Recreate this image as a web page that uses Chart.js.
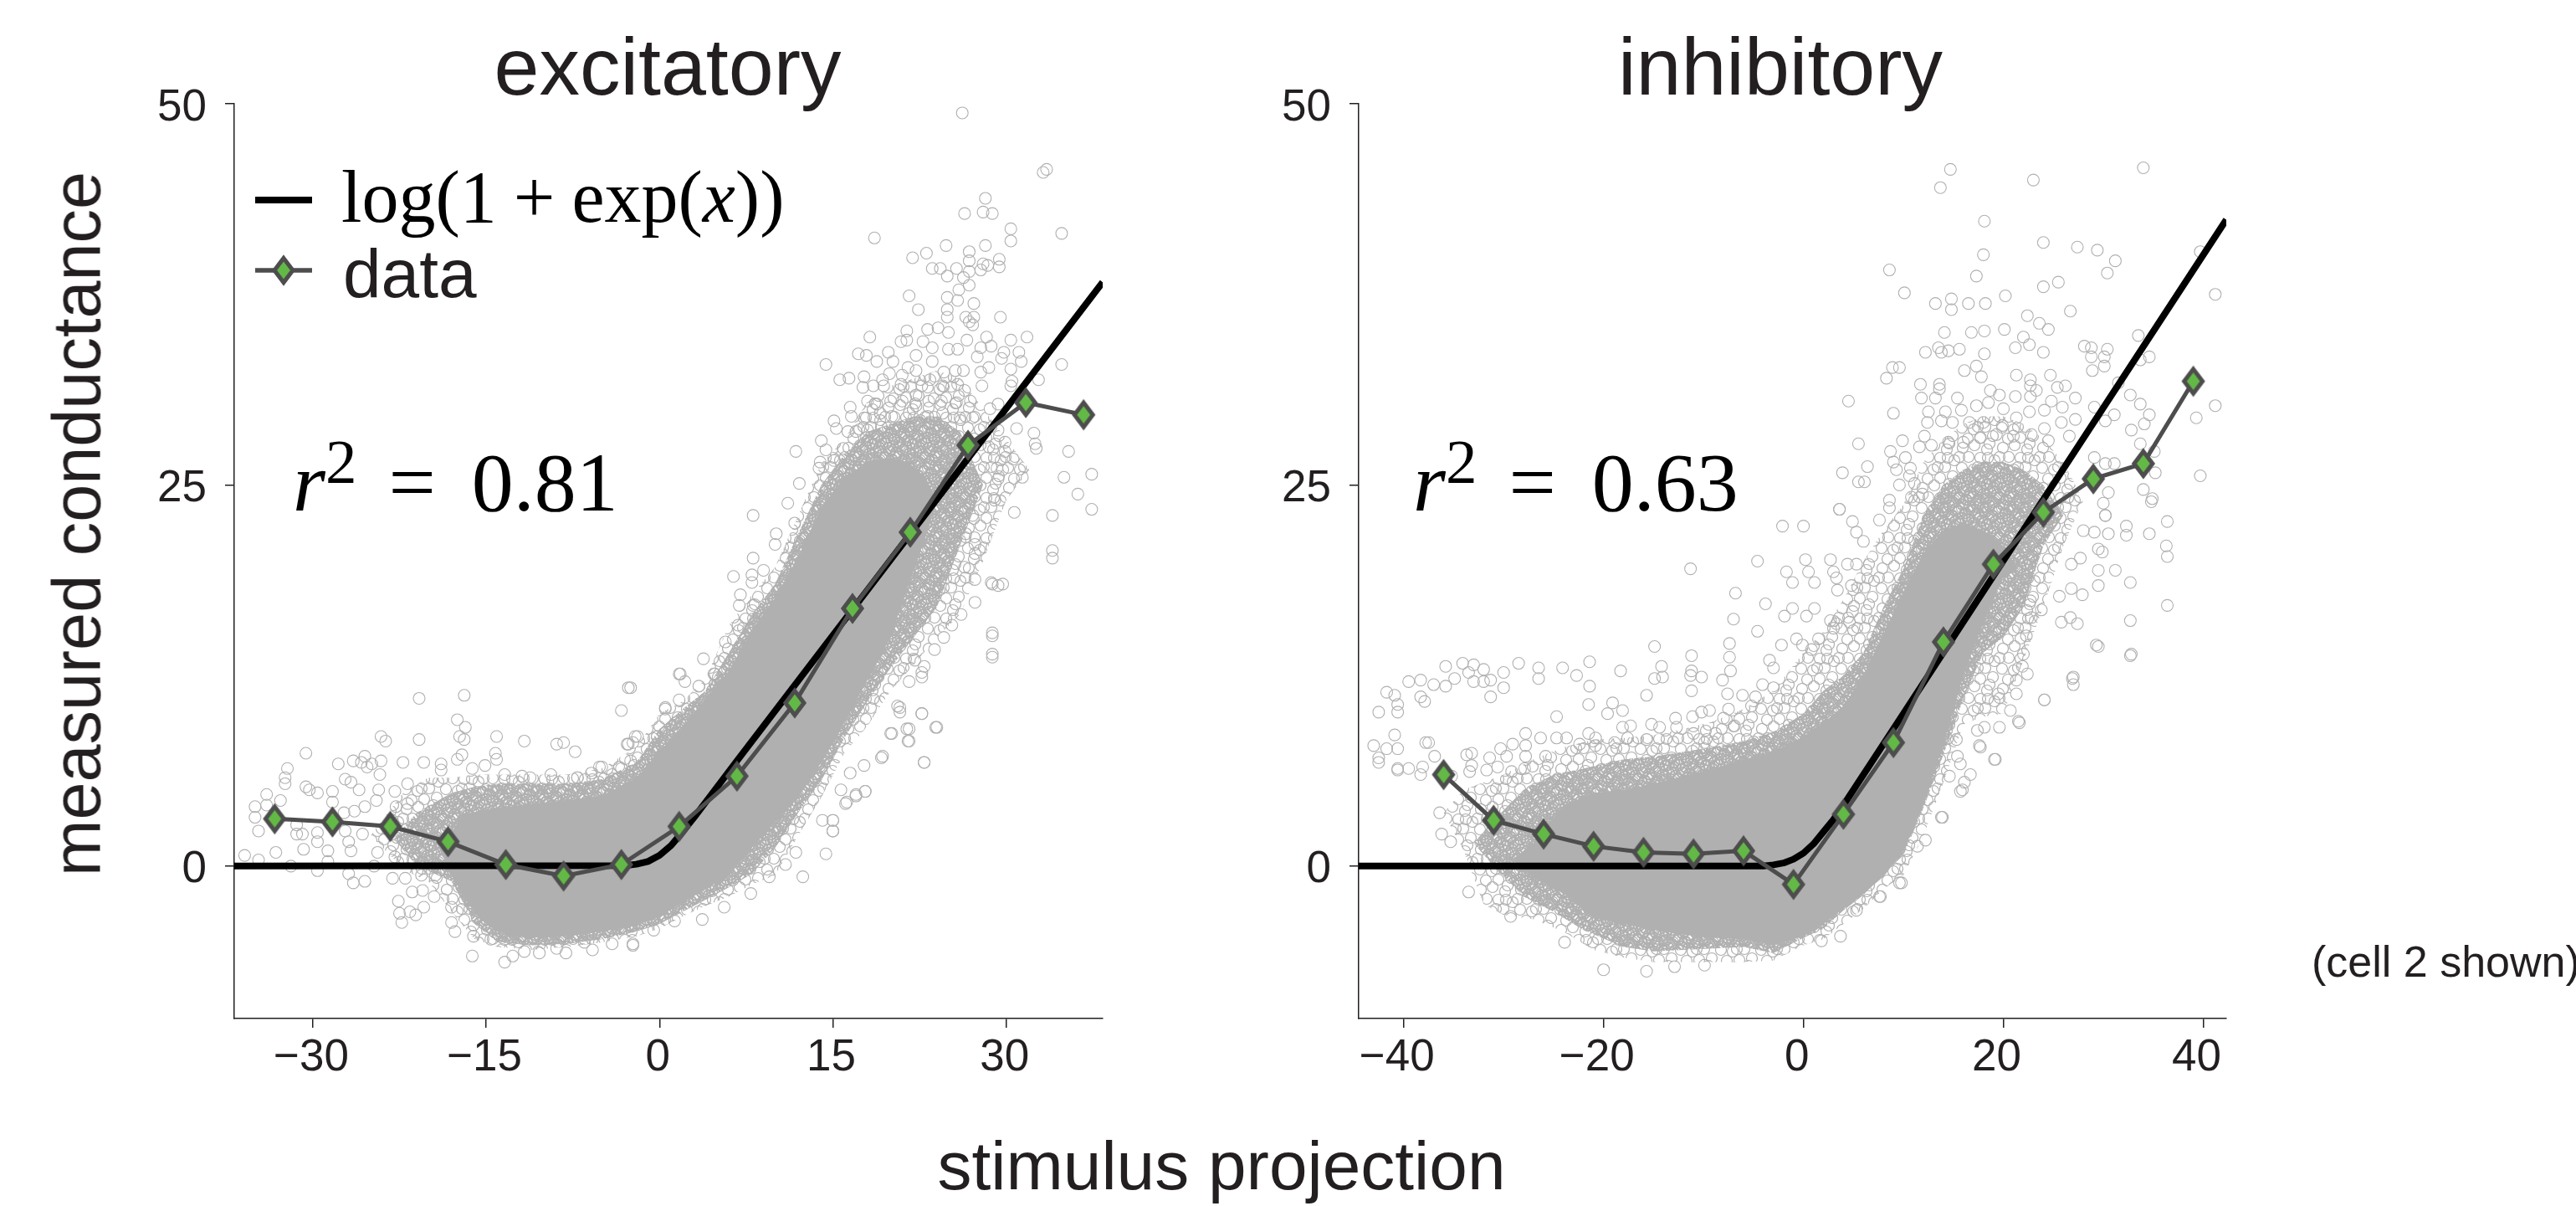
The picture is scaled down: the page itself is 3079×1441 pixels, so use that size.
<!DOCTYPE html>
<html><head><meta charset="utf-8">
<script src="https://cdn.jsdelivr.net/npm/chart.js@4/dist/chart.umd.min.js"></script>
<style>
html,body{margin:0;padding:0;background:#fff;width:3079px;height:1441px;overflow:hidden}
canvas{position:absolute;top:0}
.t{position:absolute;white-space:nowrap;color:#231f20;font-family:"Liberation Sans",sans-serif;line-height:1}
.m{position:absolute;white-space:nowrap;color:#000;font-family:"Liberation Serif",serif;line-height:1}
.m i{font-style:italic}
.m sup{font-size:.75em;position:relative;vertical-align:baseline;line-height:0;top:-.44em}
</style></head><body>
<canvas id="c1" width="1596" height="1441" style="left:0"></canvas>
<canvas id="c2" width="1304" height="1441" style="left:1476px"></canvas>
<div class="t" style="left:92px;top:626px;font-size:81px;transform:translate(-50%,-50%) rotate(-90deg)">measured conductance</div>
<div class="t" style="left:1460px;top:1393px;font-size:82px;transform:translate(-50%,-50%)">stimulus projection</div>
<div class="t" style="left:2763px;top:1123px;font-size:52px">(cell 2 shown)</div>
<div class="m" style="left:408px;top:192px;font-size:88px">log(1<span style="margin:0 20px">+</span>exp(<i>x</i>))</div>
<div class="t" style="left:410px;top:286px;font-size:82px">data</div>
<div class="m" style="left:350px;top:527px;font-size:100px"><i>r</i><sup>2</sup><span style="margin:0 43px 0 38px">=</span>0.81</div>
<div class="m" style="left:1689px;top:527px;font-size:100px"><i>r</i><sup>2</sup><span style="margin:0 43px 0 38px">=</span>0.63</div>
<script>
// ---- tick labels and panel titles
const excTicksX=[-30,-15,0,15,30];
const inhTicksX=[-40,-20,0,20,40];
const ticksY=[0,25,50];
const excTitle='excitatory', inhTitle='inhibitory';
const excRangeX=[-36.8,38.35], inhRangeX=[-44.5,42.3], rangeY=[-10,50];
// ---- binned data series
const excBinX=[-33.3,-28.3,-23.3,-18.3,-13.3,-8.3,-3.3,1.7,6.7,11.7,16.7,21.7,26.7,31.7,36.7];
const excBinY=[3.1,2.9,2.6,1.6,0.1,-0.65,0.1,2.6,5.9,10.7,16.9,21.9,27.6,30.4,29.6];
const inhBinX=[-36,-31,-26,-21,-16,-11,-6,-1,4,9,14,19,24,29,34,39];
const inhBinY=[6,3,2.1,1.3,0.9,0.8,1,-1.2,3.4,8.1,14.7,19.8,23.2,25.4,26.4,31.8];
// ---- fitted curves
const excFitX=[-36.8,-3,-2,-1,0,1,2,3,4,6.7,38.35];
const excFitY=[0,0.03,0.12,0.3,0.7,1.35,2.25,3.2,4.2,6.9,38.3];
const inhFitX=[-44.5,-4,-3,-2,-1,0,1,2,3,4,9,42.3];
const inhFitY=[0,0,0.08,0.2,0.45,0.85,1.45,2.25,3.05,4,9,42.4];
// ---- envelope of the dense cloud: solid core, dense-ring zone, sparse-ring zone
const excCoreX=[-19,-17,-15,-13,-11,-8,-5,-2,0,2,4,6,8,10,12,14,16,18,20,21.5,23,24];
const excCoreHi=[1,3.4,3.7,3.9,4.1,4.3,4.6,5.8,7.5,9.2,11,12.8,15.5,17.6,20.3,23.5,25.5,26.5,26.8,26.5,25.5,24];
const excCoreLo=[1,-2,-3.8,-4.6,-4.7,-4.6,-4.3,-3.9,-3.3,-2.4,-1.5,-0.6,1.2,2.9,4.5,6.8,9.4,12.2,15,18.4,21.5,24];
const excMidX=[-23,-21,-18,-16,-14,-11,-8,-5,-2,0,2,4,6,8,10,12,14,16,18,20,22,24,26,28];
const excMidHi=[1.8,3.5,4.8,5.2,5.4,5.4,5.4,5.7,6.8,9,10.3,11.5,14,16.5,18.5,21.8,25,27,28.5,29,29.5,29.5,28.5,25];
const excMidLo=[1.8,0,-1,-3.8,-5,-5.2,-5.1,-4.8,-4.3,-3.8,-3,-2.2,-1.4,-0.5,1.2,3.5,5.6,8.4,10.8,13,15,17,21,25];
const excMeshX=[-25,-22,-20,-18,-16,-14,-11,-8,-5,-2,0,2,4,6,8,10,12,14,16,18,20,22,24,26,28,30,32];
const excMeshHi=[2,5,5.8,5.8,6,6,6,6,6.4,7.8,10,10.8,12.3,15.8,17.8,19.6,23,26.4,28,30.5,31.5,32,32.5,32,30,28,26];
const excMeshLo=[2,-0.3,-1,-3,-4.8,-5.3,-5.5,-5.3,-5,-4.6,-4.1,-3.3,-2.6,-2,-1.2,-0.6,2,4.5,7.4,9.2,11.5,13.2,15,16.5,20,24,26];
const inhCoreX=[-29,-27,-24,-21,-18,-15,-12,-9,-6,-3,0,2,4,6,8,10,12,14,16,18,20,21.5];
const inhCoreHi=[0.5,1.5,4,4.8,5,5.4,5.9,6.4,7,7.5,8.5,9.4,10.5,12.5,15.2,18,20.5,22,22.5,22,21,19.5];
const inhCoreLo=[0.5,-0.8,-1.8,-3.4,-3.8,-4.2,-4.5,-4.7,-4.8,-5.2,-4.6,-3.8,-2.8,-1.8,-0.7,1,4,8,12.5,16,19,19.5];
const inhMidX=[-33,-31,-28,-25,-22,-18,-15,-12,-9,-6,-3,0,2,4,6,8,10,12,14,16,18,20,22,24,26];
const inhMidHi=[1.5,3,5,6,6.4,7,7.2,7.5,7.8,8.2,8.8,10,11.5,12.5,14,17,19.5,23,25,26,26.5,26.5,26,25,23];
const inhMidLo=[1.5,0,-2,-3,-4.2,-5.3,-5.6,-5.5,-5.4,-5.3,-5.7,-4.7,-4.1,-2.9,-1.9,-0.5,0.7,3.8,7.3,11,14,15,17,21,23];
const inhMeshX=[-36,-34,-32,-30,-27,-24,-21,-18,-15,-12,-9,-6,-3,0,2,4,6,8,10,12,14,16,18,20,22,24,26,28];
const inhMeshHi=[3.5,5,5.5,6,7,7.8,8.3,8.4,8.6,9,9.5,10.3,11.5,14,15.4,17.5,20,22,23.7,26.5,28,29,29.5,29.5,29,28,26.5,24];
const inhMeshLo=[3.5,1,-2.5,-3.2,-3.5,-4.3,-5.5,-6,-6.3,-6.3,-6.3,-6.3,-6.2,-5.2,-4.8,-3.8,-2.8,-1.5,-0.6,2,5.5,9.3,9.8,10,13.5,17,21,24];
// ---- individually legible open circles around the cloud
const excCircles=[[26.2,49.4],[33.2,45.5],[28.2,43.8],[26.4,42.8],[28,42.9],[28.8,42.8],[30.4,41.8],[30.4,41],[18.6,41.2],[24.8,40.7],[28.2,40.7],[23.1,40.2],[21.9,39.9],[26.8,40.3],[26.8,39.7],[23.6,39.2],[24.3,39.2],[25.7,39.2],[26.8,39],[28,39.5],[28.4,39.4],[27.8,39.1],[29.4,39.8],[29.4,39.3],[24.9,38.7],[26.3,38.6],[26.8,38.1],[25.9,37.8],[21.6,37.4],[24.9,37.3],[25.8,37.1],[27.2,36.9],[22.4,36.5],[24.9,36.5],[24.9,36],[29.5,36],[26.5,36],[27.2,36],[26.8,35.7],[27.1,35.5],[18.2,34.7],[21.4,35.1],[21.4,34.5],[20.9,34.4],[23.2,35.2],[24.1,35.3],[25,35],[22.8,34.4],[23.6,34],[25,33.9],[25.8,33.9],[26.6,34.5],[28.3,34.7],[30.4,34.5],[31.8,34.7],[28.7,34.1],[27.8,34],[29.8,33.7],[31.1,33.7],[27.5,33.4],[29.6,33.3],[31.3,33.1],[28.5,32.7],[27.8,32.4],[30.4,32.6],[30.5,31.8],[27.9,31.5],[30.4,31.5],[32.8,31.9],[17.2,33.6],[17.9,33.5],[19.8,33.7],[18.8,33.1],[20.2,33.1],[14.4,32.9],[22.2,33.5],[23.6,33.1],[21.5,32.7],[22.2,32.5],[26.3,32.5],[24.6,32.4],[25.6,32.5],[16.4,32],[15.6,31.9],[17.7,32.1],[21,32.2],[19.9,32.3],[23.4,31.9],[17.6,31.4],[18.5,31.5],[19.4,31.5],[19.3,31.9],[20.9,31.6],[24.5,31.5],[25.8,31.6],[26.4,31.2],[22.7,31.5],[16.5,30.1],[18,30.5],[18.8,30.3],[20,30.5],[21,30.5],[22.2,30.9],[22.2,30.2],[23.3,30.5],[24.4,30.5],[25.7,30.4],[26.9,30.5],[16.6,29.5],[17.7,29.4],[19.1,29.7],[20.1,29.5],[21.6,29.7],[23.2,29.5],[24.5,29.7],[26,29.4],[27.1,29.4],[28.6,30],[29.3,30.3],[15.1,29.2],[15.3,28.7],[16.3,28.5],[17,28.5],[18,28.6],[19.2,28.8],[30.9,28.7],[29.3,28.6],[32.4,28.4],[32.6,27.4],[29.9,27.8],[29.9,27.2],[30.6,26.7],[29.2,26.1],[28.5,27.5],[14,27.9],[14.4,27.3],[11.8,27.2],[15.9,27.4],[13.9,26.5],[13.8,26.1],[15.1,26.6],
[-16.9,11.2],[-20.8,11],[-2.7,11.7],[-3.3,10.2],[-17.5,9.6],[-16.8,9.1],[-17.3,8.5],[-16.9,8.3],[-20.8,8.3],[-24.1,8.5],[-23.7,8.2],[-14.1,8.5],[-11.7,8.2],[-8.9,8],[-8.3,8.1],[-7.3,7.5],[-30.6,7.4],[-32.2,6.4],[-32.4,5.8],[-32.4,5.4],[-27.8,6.7],[-26.5,6.9],[-25.5,7.2],[-25.8,6.8],[-25.3,6.5],[-24.9,6.7],[-24.1,6.9],[-22.2,6.8],[-20.4,6.8],[-18.9,6.7],[-17.1,7.3],[-17.5,7],[-18.9,6.3],[-14.2,7.4],[-14.1,7],[-15.1,6.6],[-16.2,6.4],[-24.2,6],[-27.2,5.7],[-26.7,5.5],[-30.6,5.2],[-30.3,5],[-29.6,4.8],[-28.3,4.9],[-28.3,4.2],[-34,4.7],[-32.8,4.3],[-35,3.9],[-34,4],[-35,3.2],[-34.7,2.3],[-35.9,0.7],[-34.7,0.4],[-33.2,0.9],[-31.9,0],[-29.6,-0.3],[-28.7,0.3],[-28.7,1],[-30.8,1.1],[-29.6,1.6],[-30.9,2.1],[-31.4,2.1],[-31.4,2.7],[-29.6,2.2],[-26.7,1],[-26.9,-0.5],[-26.5,-1.1],[-25.5,-1],[-24.7,0],[-23.1,-0.8],[-22,-0.8],[-20.6,-0.6],[-19.4,-0.6],[-24.4,0.9],[-22.9,0.6],[-25.7,2.1],[-26.9,1.6],[-27.2,2.3],[-27.3,3.5],[-26.4,3.6],[-25.5,3.9],[-26,5],[-24.3,5],[-22.9,4.9],[-21.8,5.4],[-24.5,4.3],[-22.8,3.9],[-21.8,4.1],[-22.6,-2.3],[-22.5,-3.1],[-21.6,-3],[-22.3,-3.7],[-21.1,-3.2],[-20.4,-2.7],[-21.4,-1.7],[-20.5,-1.6],[-19.5,-2],[-18,-2.7],[-18,-3.7],[-17.7,-4.3],[-16.2,-5.9],[-13.4,-6.3],[-10.4,-5.7],[-8.1,-5.7],[-5.8,-5.5],[-2.3,-5.1],[-16.1,-4.6],[-14.6,-4.8],[-12.7,-5.9],[-11.7,-5.6],[-8.9,-5.4],[-6.5,-5],[-4.1,-5.1],[-13.4,6],[-11.9,5.9],[-11.2,5.8],[-9.4,6],[-7.1,5.8],[-5.9,6.1],[-5,6.5],[-4.1,6],[-2.3,8.1],[-2.8,8],[-2.5,6.9],[-3.3,6.4],
[1.7,12.6],[0.5,10.3],[4.8,12.6],[-1.9,8.5],[-0.2,8.5],[-2.7,8],[0.3,7.4],[-5.2,6.5],[-7.1,5.8],[23.9,9.1],[22.7,10],[21.6,9],[21.6,8.2],[20,8.7],[22.9,6.8],[19.2,7.1],[17.8,4.9],[17,4.7],[16.1,4.1],[15,2.3],[15,3],[14.4,0.8],[11.8,0.9],[12.4,-0.7],[10.9,0.1],[9.5,-0.7],[7.9,-1.8],[5.6,-2.7],[3.7,-3.5],[1.3,-3.6],[-0.5,-4.2],[-2.3,-5.2],[22.7,12.7],[20.6,10.5],
[12.1,25.1],[11.1,23.8],[8.1,23],[10.1,21.8],[11.7,22.5],[10,21.1],[8.1,20.2],[6.4,19],[8,19.1],[9,19.4],[8,18.6],[7,17.8],[6.9,17.1],[8.1,17.1],[6.8,15.8],[5.7,14.7],[3.8,13.6],[1.8,12.6],[2.2,12.1],[4.7,12.6],[3.4,11.8],[-2.5,11.7],[0.5,10.4],[1.7,10.9],[1.4,9.4],[-2.1,8.5],[-0.2,8.5],[29.3,25.4],[29,24],[27.1,23],[26.5,21.8],[27.3,21.1],[27.3,20.5],[26.4,19.6],[27.3,18.8],[28.7,18.6],[29.3,18.4],[27.3,17.3],[26.1,16.5],[25.3,15.8],[24.6,15],[23.8,14.2],[28.8,15.1],[28.8,13.9],[22.9,13.1],[22.1,13.5],[22.7,12.4],[21.6,12.1],[22.7,10],[24,9.1],[21.4,9],[21.5,8.2],[20.1,8.7],[20.8,10.4],[20.8,10.1],[22.9,6.8],[19.3,7.2],[17.7,6.6],[17.8,4.9],[17,4.6],[16.2,4.2],[16.5,6.1],[15.7,5],[15,3],[15,2.3],[14.1,3],
[36.2,24.4],[37.4,25.7],[35.4,27.2],[37.4,23.4],[35,25.5],[34,23],[34,20.7],[34,20.2],[30.7,23.2],[29.7,18.5],[28.8,18.5],[28.8,15.3],[28.8,13.7],[31.4,25.5],[29.7,26],[32.5,27.7],[34.8,32.9],[34.8,41.5],[33.5,45.7]];
const inhCircles=[[14.7,45.7],[13.7,44.5],[23,45],[34,45.8],[18.1,42.3],[24,40.9],[27.4,40.6],[29.4,40.4],[31.2,39.7],[30.4,38.9],[18,40.1],[8.6,39.1],[17.3,38.7],[10.1,37.6],[24,38],[25.5,38.3],[14.8,37.2],[14.8,36.5],[13.2,36.9],[16.5,36.9],[18.2,36.9],[20.2,37.4],[26.7,36.4],[22.4,36.1],[23.6,35.6],[24.5,35.2],[14.1,35],[16.8,35],[18.1,35.1],[20.1,35.2],[22,34.7],[22.6,34.2],[21.2,34],[24,33.7],[13.5,34],[12.2,33.7],[13.8,33.7],[14.5,33.8],[15.6,33.9],[18.1,33.6],[28.1,34.1],[28.8,34],[30.4,33.9],[28.8,33.4],[30.1,33.4],[30.1,32.8],[28.9,32.5],[33.5,34.8],[34.6,33.4],[33.7,33.2],[39.7,40.3],[41.2,37.5],[41.2,30.2],[39.3,29.4],[39.7,25.6],[8.9,32.7],[9.6,32.7],[8.3,32],[4.5,30.5],[9,29.7],[5.5,27.7],[6.4,26.2],[3.9,25.8],[5.5,25.2],[6.1,25.2],[3.6,23.4],[11.7,31.6],[13.6,31.6],[13.6,31.3],[11.8,30.7],[13.2,30.7],[15.4,30.7],[16.1,32.5],[17.3,32.8],[17.8,32.1],[18.7,31.2],[19.6,30.9],[21.3,32.2],[21.2,30.8],[22.7,31.9],[22.7,31.5],[23.3,31.2],[22.7,30.8],[24.7,32.2],[26.2,31.5],[25.4,31.4],[27.2,30.7],[24.8,30.5],[25.9,30.1],[29.1,30.1],[32.7,30.9],[31.5,31.7],[33.7,30.3],[34.6,29.6],[34.1,29],[31.1,29.6],[30.2,29.2],[32.8,28.6],[33.7,27.7],[35.1,27.2],[35.2,25.8],[34,24.7],[34.9,24.1],[30,23.8],[30.5,24.5],[30.2,23],[30.2,26.4],[31.1,26.4],[29.1,26.8],[12.5,29.8],[12.4,29.1],[14.2,29.8],[15.8,29.9],[17.3,30.2],[18.5,30.4],[20,30],[21.3,29.4],[22.6,29.8],[24.1,29.9],[16.6,29.1],[14.9,29.1],[13.8,29.2],[18,29.1],[19.9,28.9],[24.1,28.7],[25.8,29.1],[27.2,29.3],[12.1,28.2],[9.9,27.9],[8.7,27.2],[11.6,27.5],[12.8,27.6],[14.5,27.8],[16,27.8],[17.7,28.1],[19.3,28.3],[21,28.2],[22.8,28.3],[24.5,27.9],[26.6,28.2],[9,26.5],[10.2,26.8],[9.3,26],[10.7,26.1],[10.6,25.6],[9.6,25],[11.1,25.1],[8.6,24],[8.6,23.5],[10.8,24.2],[11.9,24.4],
[-2.1,22.3],[-11.3,19.5],[-4.6,20],[-1.7,19.3],[-1.1,18.6],[0.2,20.1],[-6.8,17.9],[-3.8,17.2],[-1.1,16.9],[-1.9,16.4],[-7,16.2],[-4.6,15.4],[-7.4,14.6],[-14.9,14.4],[-11.2,13.8],[-7.4,13.7],[-2.2,14.5],[-0.7,14.9],[-28.5,13.3],[-26.5,13],[-26.5,12.3],[-24.1,13],[-22.7,12.5],[-21.4,13.4],[-21.4,11.8],[-18.3,12.8],[-14.2,13.1],[-14.1,12.4],[-14.9,12.3],[-11.2,12.8],[-11.3,12.5],[-10.2,12.4],[-11.2,11.5],[-8.1,12.2],[-7.3,12.8],[-7.6,11.3],[-6.1,11.2],[-15.7,11.2],[-35.8,13.1],[-34.1,13.3],[-33,13.2],[-32,12.9],[-30,12.7],[-30,11.7],[-38.3,12.2],[-39.5,12.1],[-37,11.9],[-35.8,11.8],[-34.9,12.3],[-33.5,12.7],[-33,12.1],[-32,12.1],[-31.3,12.2],[-31.3,11.1],[-41.7,11.4],[-40.9,11.2],[-38.3,11.1],[-37.9,10.8],[-40.6,10.6],[-40.6,10.1],[-42.5,10.1],[-21.5,10.6],[-19.1,10.7],[-18.1,10.2],[-19.6,10],[-24.7,9.8],[-12.8,9.7],[-11.1,9.8],[-10.2,10.1],[-9.4,10.2],[-7.5,10.3],[-8,9.7],[-17.3,9.2],[-18.1,9.1],[-15.2,9.3],[-14.4,9.1],[-27.8,8.7],[-26.3,8.4],[-24.7,8.4],[-23.7,8.4],[-21.5,8.7],[-20.8,8.4],[-22.4,8],[-40.9,8.6],[-37.8,8.1],[-43,7.9],[-41.7,7.7],[-40.6,7.7],[-30.3,7.7],[-29.1,8],[-27.8,7.9],[-33.7,7.3],[-36.9,7.2],[-42.5,7.1],[-42.5,6.8],[-31.4,7.1],[-29.7,7.2],[-25.8,7.2],[-27.8,7.2],[-39.5,6.4],[-40.6,6.3],[-38.1,6.5],[-38.3,6],[-35.2,5.9],[-33.4,6.2],[-33.2,6.6],[-31.7,6.3],[-30.6,6.5],[-29.2,6.2],[-27.9,6.4],[-18.9,8.1],[-17.6,8.4],[-15.7,8.3],[-20.8,7.9],[-12.7,9.1],[-11,8.7],[-9.9,8.1],[-8.8,8.7],[-6.9,9.2],[-4.1,11.9],[-3,11.7],[-3.4,13.5],[-3,13],[-4.8,11.1],[-5.2,10.5],
[3.6,23.4],[0,22.3],[4.9,22.6],[7.6,22.7],[5.3,21.9],[6,21.3],[2.7,20.1],[4.4,19.8],[5.3,19.8],[0.5,19.3],[1.1,18.6],[3,19.3],[3.3,18.9],[3.4,18.1],[4.8,18.4],[1.1,16.9],[0.3,16.4],[4.9,16.7],[2.7,16.1],[4.6,16],[3.3,15.9],[3,15.6],[1.5,14.9],[-0.1,14.5],[0.8,14.2],[29.1,21.9],[30.5,21.8],[32.3,22.3],[32.3,21.7],[34.6,21.8],[36.4,22.6],[36.3,21],[36.4,20.3],[29.5,20.8],[29.9,20.6],[27.7,20.2],[26.8,19.8],[29.5,19.4],[31.2,19.4],[32.7,18.6],[26.8,18.2],[29.5,18.4],[27.9,17.8],[25.6,17.7],[23.8,16.8],[36.4,17.1],[32.7,16.1],[25.8,16],[26.7,16.3],[27.4,15.9],[29.5,14.4],[32.7,13.8],[27,12.4],[27,11.9],[24.1,10.9],[28,22],[30.2,23],[34.8,23.9],[22.7,17.4],[22.8,16.3],[22.3,15.1],[22,13.9],[21.9,13.1],[22.4,12.6],[21.3,12.2],[21.3,11.3],[19.5,11.3],[20.7,10.2],[21.6,9.4],[19.6,9.1],[18.1,9.1],[17.4,8.9],[17.7,7.8],[19.2,7],[15.3,8.3],[15.4,7.2],[15.7,6.7],[16.7,6],[16.1,5.5],[15.7,4.9],[14.6,5.9],[13.9,3.2],[12.2,1.7],[11.4,1.3],[9.8,-1.1],[7.6,-2],[5.3,-2.9],
[-20,-6.8],[-15.7,-6.9],[-9.9,-6.5],[-12.9,-6.6],[-23.9,-5],[-29.3,-3.3],[-33.5,-1.7],[-36.2,2.1],[-35.3,1.6],[-36.4,3.5],[-33.2,7.4],[-37.5,8.1],[-40.6,6.4],[3.7,-4.6],[1.8,-4.9],[7.7,-2],[9.6,-1.1],[13.8,3.2],[15.9,5],[19.1,7],[21.5,9.5],[17.6,7.9],[29.3,14.5],[32.8,13.9],[26.9,12.3],[24.1,10.9]];

// ---- styling
const CLOUD='#b0b0b0', INK='#231f20', BIN_LINE='#4d4d4d', BIN_FILL='#63b946';
const tickFont={family:'"Liberation Sans",sans-serif',size:53};
const titleFont={family:'"Liberation Sans",sans-serif',size:97,lineHeight:1,weight:'normal'};

function ringTile(rings,lw){
  const s=document.createElement('canvas');s.width=s.height=48;const c=s.getContext('2d');
  c.strokeStyle=CLOUD;c.lineWidth=lw;
  for(const[x,y]of rings)for(const dx of[-48,0,48])for(const dy of[-48,0,48]){c.beginPath();c.arc(x+dx,y+dy,6.5,0,7);c.stroke();}
  return document.createElement('canvas').getContext('2d').createPattern(s,'repeat');
}
const sparseRings=[[6,7],[20,4],[35,9],[44,22],[13,18],[27,19],[5,31],[19,33],[33,30],[42,41],[12,44],[27,43],[38,2],[24,30],[2,18],[36,19]];
const denseRings=[[3,2],[11,5],[19,1],[27,6],[35,3],[43,7],[7,11],[15,13],[23,10],[31,14],[39,12],[47,15],[2,19],[10,21],[18,18],[26,22],[34,20],[42,24],[6,27],[14,29],[22,26],[30,30],[38,28],[46,32],[1,35],[9,37],[17,34],[25,38],[33,36],[41,40],[5,43],[13,45],[21,42],[29,46],[37,44],[45,47]];
function diamond(){
  const W=16,H=20,hw=11,hh=14.5,s=document.createElement('canvas');s.width=W*2;s.height=H*2;const c=s.getContext('2d');
  c.translate(W,H);c.beginPath();c.moveTo(0,-hh);c.lineTo(hw,0);c.lineTo(0,hh);c.lineTo(-hw,0);c.closePath();
  c.fillStyle=BIN_FILL;c.fill();c.strokeStyle=BIN_LINE;c.lineWidth=5;c.lineJoin='miter';c.miterLimit=6;c.stroke();return s;
}
const diamondMark=diamond(), ringFill=ringTile(sparseRings,1.2), denseFill=ringTile(denseRings,2.1);
const zip=(xs,ys)=>xs.map((x,i)=>({x,y:ys[i]}));
function band(xs,hi,lo,fillStyle,idx,order){
  return [
    {data:zip(xs,hi),borderWidth:0,pointRadius:0,fill:{target:idx+1},backgroundColor:fillStyle,order},
    {data:zip(xs,lo),borderWidth:0,pointRadius:0,fill:false,order}
  ];
}
function panelPlugin(on){return{id:'panelExtras',
  afterLayout(ch){ // centre the title over the whole canvas rather than the padded box
    if(ch.titleBlock){ch.titleBlock.left=0;ch.titleBlock.right=ch.width;}
  },
  afterDatasetsDraw(ch){
    if(!on)return;const c=ch.ctx;c.save();
    c.strokeStyle='#000';c.lineWidth=8;c.beginPath();c.moveTo(305,239);c.lineTo(373,239);c.stroke();
    c.strokeStyle=BIN_LINE;c.lineWidth=5.5;c.beginPath();c.moveTo(305,323);c.lineTo(373,323);c.stroke();
    c.drawImage(diamondMark,339-diamondMark.width/2,323-diamondMark.height/2);c.restore();
  }};}
function panel(id,p){
  const ds=[
    ...band(p.meshX,p.meshHi,p.meshLo,ringFill,0,10),
    ...band(p.midX,p.midHi,p.midLo,denseFill,2,9),
    ...band(p.coreX,p.coreHi,p.coreLo,CLOUD,4,8),
    {type:'scatter',data:p.circles.map(([x,y])=>({x,y})),showLine:false,pointStyle:'circle',pointRadius:7,pointBorderWidth:1.1,pointBorderColor:'#b0b0b0',pointBackgroundColor:'rgba(0,0,0,0)',order:7},
    {label:'log(1+exp(x))',data:zip(p.fitX,p.fitY),borderColor:'#000',borderWidth:8,pointRadius:0,fill:false,order:2,borderJoinStyle:'round',borderCapStyle:'butt'},
    {label:'data',data:zip(p.binX,p.binY),borderColor:BIN_LINE,borderWidth:5,pointStyle:diamondMark,pointRadius:14,fill:false,order:1}
  ];
  new Chart(document.getElementById(id),{
    type:'line',data:{datasets:ds},
    plugins:[panelPlugin(p.legend)],
    options:{responsive:false,animation:false,events:[],
      layout:{padding:{left:0,right:p.padRight,top:0,bottom:0}},
      plugins:{legend:{display:false},tooltip:{enabled:false},
        title:{display:true,text:p.title,color:INK,font:titleFont,padding:{top:38,bottom:-11}}},
      scales:{
        x:{type:'linear',min:p.rangeX[0],max:p.rangeX[1],
          grid:{display:true,drawOnChartArea:false,drawTicks:true,tickLength:11,color:INK,lineWidth:1.5},
          border:{display:true,color:INK,width:1.5},
          afterBuildTicks:s=>{s.ticks=p.ticksX.map(v=>({value:v}));},
          afterFit:s=>{s.height=1441-1217;},
          ticks:{font:tickFont,color:INK,padding:5,labelOffset:p.xLabelShift,autoSkip:false,maxRotation:0,callback:v=>String(v).replace('-','\u2212')}},
        y:{type:'linear',min:rangeY[0],max:rangeY[1],
          grid:{display:true,drawOnChartArea:false,drawTicks:true,tickLength:11,color:INK,lineWidth:1.5},
          border:{display:true,color:INK,width:1.5},
          afterBuildTicks:s=>{s.ticks=ticksY.map(v=>({value:v}));},
          afterFit:s=>{s.width=p.yWidth;},
          ticks:{font:tickFont,color:INK,padding:22,labelOffset:5,autoSkip:false,callback:v=>String(v)}}
      }}
  });
}
panel('c1',{title:excTitle,rangeX:excRangeX,ticksX:excTicksX,binX:excBinX,binY:excBinY,fitX:excFitX,fitY:excFitY,
  coreX:excCoreX,coreHi:excCoreHi,coreLo:excCoreLo,midX:excMidX,midHi:excMidHi,midLo:excMidLo,meshX:excMeshX,meshHi:excMeshHi,meshLo:excMeshLo,
  circles:excCircles,legend:true,padRight:278,yWidth:280,xLabelShift:-2});
panel('c2',{title:inhTitle,rangeX:inhRangeX,ticksX:inhTicksX,binX:inhBinX,binY:inhBinY,fitX:inhFitX,fitY:inhFitY,
  coreX:inhCoreX,coreHi:inhCoreHi,coreLo:inhCoreLo,midX:inhMidX,midHi:inhMidHi,midLo:inhMidLo,meshX:inhMeshX,meshHi:inhMeshHi,meshLo:inhMeshLo,
  circles:inhCircles,legend:false,padRight:119,yWidth:148,xLabelShift:-8});
</script>
</body></html>
